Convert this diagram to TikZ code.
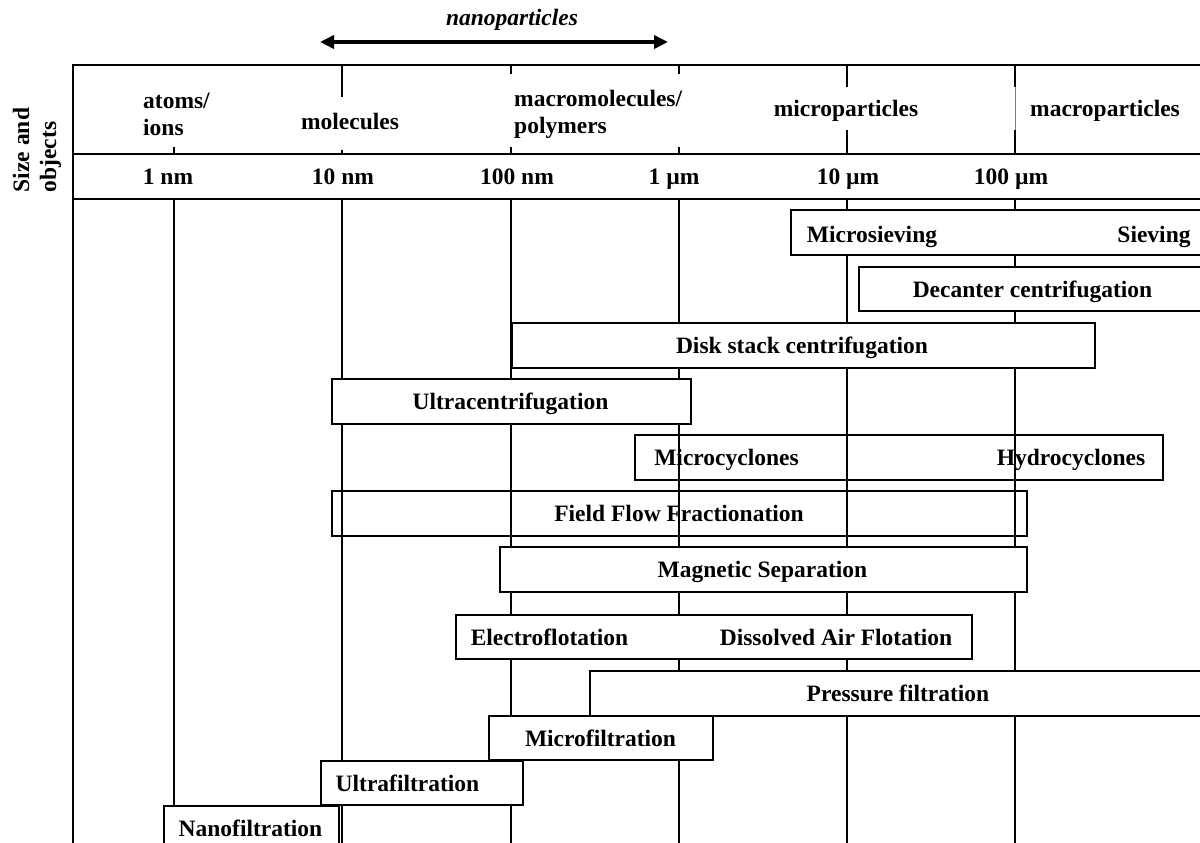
\documentclass[tikz,border=0pt]{standalone}
\usepackage{fontspec}
\setmainfont{Liberation Serif}
\usetikzlibrary{arrows.meta}
\begin{document}
\begin{tikzpicture}[x=1pt,y=-1pt,
  lbl/.style={font=\fontsize{23.5}{27}\selectfont\bfseries, inner sep=0pt},
  bar/.style={draw, line width=1.5pt, fill=white, inner sep=0pt, anchor=north west},
  openbar/.style={bar, fill=none},
  gridline/.style={line width=1.5pt},
  frameline/.style={line width=1.8pt},
  thinline/.style={line width=0.6pt, gray},
  nanoarrow/.style={line width=3.5pt, {Triangle[length=14pt,width=13pt]}-{Triangle[length=14pt,width=13pt]}}]
\useasboundingbox (0,0) rectangle (1200,843);
\clip (0,0) rectangle (1200,843);

% nanoparticles arrow
\coordinate (nL) at (320,42);
\coordinate (nR) at (668,42);
\draw[nanoarrow] (nL) -- (nR);
\node[lbl, font=\fontsize{23.5}{27}\selectfont\bfseries\itshape, anchor=base] (nano) at (512,26) {nanoparticles};

% header frame
\draw[frameline] (1210,65) -- (73,65) -- (73,843);
\draw[frameline] (73,154) -- (1210,154);
\draw[frameline] (73,199) -- (1210,199);

% header ticks
\draw[gridline] (174,147) -- (174,154);
\draw[gridline] (342,65) -- (342,97);
\draw[gridline] (342,150) -- (342,154);
\draw[gridline] (511,65) -- (511,74);
\draw[gridline] (511,147) -- (511,154);
\draw[gridline] (679,65) -- (679,74);
\draw[gridline] (679,147) -- (679,154);
\draw[gridline] (847,65) -- (847,87);
\draw[gridline] (847,130) -- (847,154);
\draw[gridline] (1015,65) -- (1015,87);
\draw[thinline] (1015,87) -- (1015,130);
\draw[gridline] (1015,130) -- (1015,154);

% body grid lines
\foreach \gx in {174,342,511,679,847,1015}
  \draw[gridline] (\gx,199) -- (\gx,843);

% header texts
\node[lbl, align=left, rotate=90] (size) at (37,150) {Size and\\objects};
\node[lbl, align=left, anchor=west] (atoms) at (143,114) {atoms/\\ions};
\node[lbl, anchor=base] (molecules) at (350,129) {molecules};
\node[lbl, align=left, anchor=west] (macromol) at (514,114) {macromolecules/\\polymers};
\node[lbl, anchor=base] (micropart) at (846,117) {microparticles};
\node[lbl, anchor=base west] (macropart) at (1030,117) {macroparticles};

% scale
\node[lbl, anchor=base] (s1) at (168,184) {1 nm};
\node[lbl, anchor=base] (s2) at (343,184) {10 nm};
\node[lbl, anchor=base] (s3) at (517,184) {100 nm};
\node[lbl, anchor=base] (s4) at (674,184) {1 µm};
\node[lbl, anchor=base] (s5) at (848,184) {10 µm};
\node[lbl, anchor=base] (s6) at (1011,184) {100 µm};

% bars
\node[bar, minimum width=420pt, minimum height=45pt] (ms) at (790,209) {};
\node[lbl, anchor=base] (msA) at (872,242.5) {Microsieving};
\node[lbl, anchor=base] (msB) at (1154,242.5) {Sieving};

\node[bar, minimum width=352pt, minimum height=44pt] (dc) at (858,266) {};
\node[lbl, anchor=base] (dcT) at (1032.5,297.5) {Decanter centrifugation};

\node[bar, minimum width=583pt, minimum height=45pt] (ds) at (511,322) {};
\node[lbl, anchor=base] (dsT) at (802,353.5) {Disk stack centrifugation};

\node[bar, minimum width=359pt, minimum height=45pt] (uc) at (331,378) {};
\node[lbl, anchor=base] (ucT) at (510.5,409.5) {Ultracentrifugation};

\node[openbar, minimum width=528pt, minimum height=45pt] (cy) at (634,434) {};
\node[lbl, anchor=base] (cyA) at (726.5,465.5) {Microcyclones};
\node[lbl, anchor=base] (cyB) at (1071,465.5) {Hydrocyclones};

\node[openbar, minimum width=695pt, minimum height=45pt] (ff) at (331,490) {};
\node[lbl, anchor=base] (ffT) at (679,521.5) {Field Flow Fractionation};

\node[bar, minimum width=527pt, minimum height=45pt] (mg) at (499,546) {};
\node[lbl, anchor=base] (mgT) at (762.5,577.5) {Magnetic Separation};

\node[bar, minimum width=516pt, minimum height=44pt] (ef) at (455,614) {};
\node[lbl, anchor=base] (efA) at (549.5,645) {Electroflotation};
\node[lbl, anchor=base] (efB) at (836,645) {Dissolved Air Flotation};

\node[bar, minimum width=621pt, minimum height=45pt] (pf) at (589,670) {};
\node[lbl, anchor=base] (pfT) at (898,701.5) {Pressure filtration};

\node[bar, minimum width=224pt, minimum height=44pt] (mf) at (488,715) {};
\node[lbl, anchor=base] (mfT) at (600.5,746) {Microfiltration};

\node[bar, minimum width=202pt, minimum height=44pt] (uf) at (320,760) {};
\node[lbl, anchor=base] (ufT) at (407.5,791) {Ultrafiltration};

\node[bar, minimum width=175pt, minimum height=50pt] (nf) at (163,805) {};
\node[lbl, anchor=base] (nfT) at (250.5,836) {Nanofiltration};
\end{tikzpicture}
\end{document}
